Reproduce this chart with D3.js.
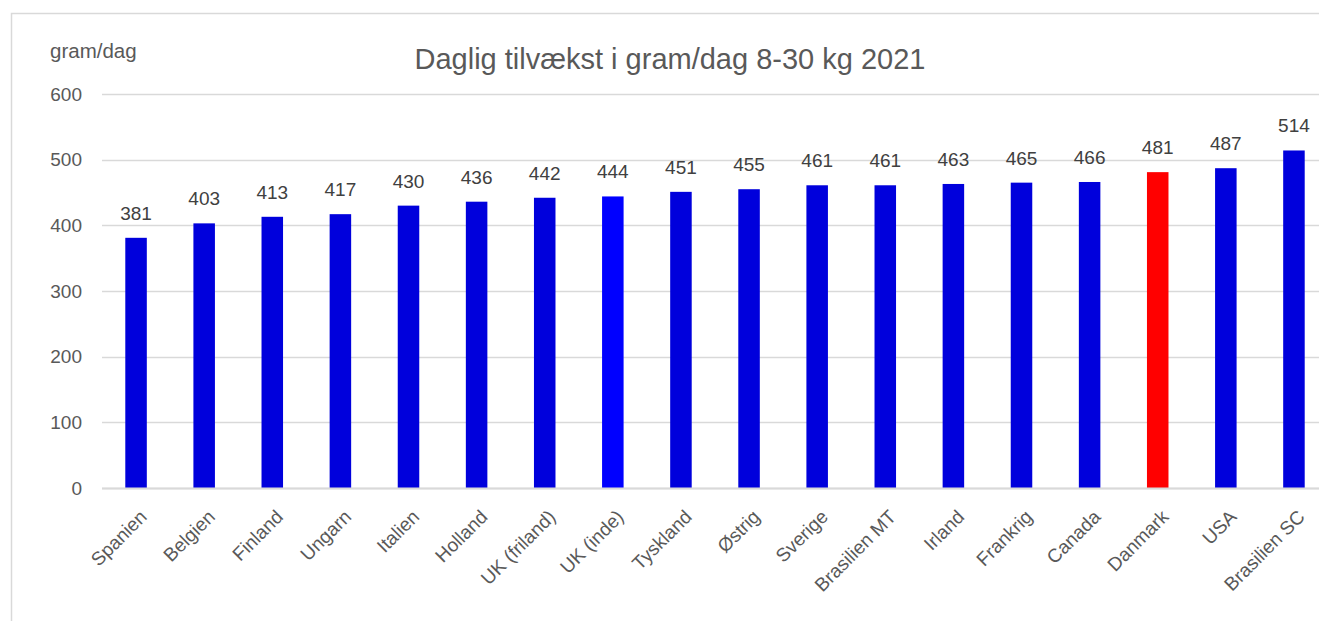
<!DOCTYPE html>
<html><head><meta charset="utf-8">
<script src="https://cdn.jsdelivr.net/npm/d3@7"></script>
<style>body{margin:0;background:#fff;}svg{display:block;font-family:Arial,"Liberation Sans",sans-serif;}</style>
</head><body>
<svg id="c" width="1319" height="621"></svg>
<script>
const categories = ["Spanien","Belgien","Finland","Ungarn","Italien","Holland","UK (friland)","UK (inde)","Tyskland","Østrig","Sverige","Brasilien MT","Irland","Frankrig","Canada","Danmark","USA","Brasilien SC"];
const values = [381,403,413,417,430,436,442,444,451,455,461,461,463,465,466,481,487,514];
const yTicks = [0,100,200,300,400,500,600];
const title = "Daglig tilvækst i gram/dag 8-30 kg 2021";
const yLabel = "gram/dag";

(function(){
const svg = d3.select("#c");
svg.append("rect").attr("x",11.5).attr("y",13.5).attr("width",1400).attr("height",700)
  .attr("fill","#fff").attr("stroke","#d9d9d9").attr("stroke-width",1.5);

const mL = 102, mR = 1328, mT = 94, mB = 488;
const x = d3.scaleBand().domain(categories).range([mL,mR]).paddingInner(0.684).paddingOuter(0.342);
const y = d3.scaleLinear().domain([0,600]).range([mB,mT]);

const g = svg.append("g");
g.selectAll("line.grid").data(yTicks).join("line")
  .attr("x1",mL).attr("x2",1319).attr("y1",d=>Math.round(y(d))+0.5).attr("y2",d=>Math.round(y(d))+0.5)
  .attr("stroke","#d9d9d9").attr("stroke-width",1.3);

const yAxis = d3.axisLeft(y).tickValues(yTicks).tickSize(0).tickPadding(0);
const ya = svg.append("g").attr("transform","translate(82,0)").call(yAxis);
ya.select(".domain").remove();
ya.selectAll("text").attr("fill","#595959").attr("font-size","19px").attr("font-family","Arial,'Liberation Sans',sans-serif");

g.selectAll("rect.bar").data(values).join("rect")
  .attr("x",(d,i)=>x(categories[i])).attr("width",x.bandwidth())
  .attr("y",d=>y(d)).attr("height",d=>y(0)-y(d))
  .attr("fill",(d,i)=>categories[i]==="Danmark"?"#ff0000":(categories[i]==="UK (inde)"?"#0000ff":"#0000dc"));

g.append("line").attr("x1",mL).attr("x2",1319).attr("y1",488.5).attr("y2",488.5).attr("stroke","#d9d9d9").attr("stroke-width",2);

g.selectAll("text.val").data(values).join("text")
  .attr("x",(d,i)=>x(categories[i])+x.bandwidth()/2).attr("y",d=>y(d)-18)
  .attr("text-anchor","middle").attr("fill","#404040").attr("font-size","19px").text(d=>d);

const xAxis = d3.axisBottom(x).tickSize(0).tickPadding(0);
const xa = svg.append("g").attr("transform",`translate(0,${mB})`).call(xAxis);
xa.select(".domain").remove();
xa.selectAll("text")
  .attr("fill","#595959").attr("font-size","19px").attr("font-family","Arial,'Liberation Sans',sans-serif")
  .attr("text-anchor","end").attr("dy",null).attr("y",null)
  .attr("transform","translate(12,30) rotate(-45)");

svg.append("text").attr("x",670).attr("y",69).attr("text-anchor","middle").attr("fill","#595959")
  .attr("font-size","29px").text(title);
svg.append("text").attr("x",50).attr("y",58).attr("fill","#595959").attr("font-size","20.5px").text(yLabel);
})();
</script>
</body></html>
